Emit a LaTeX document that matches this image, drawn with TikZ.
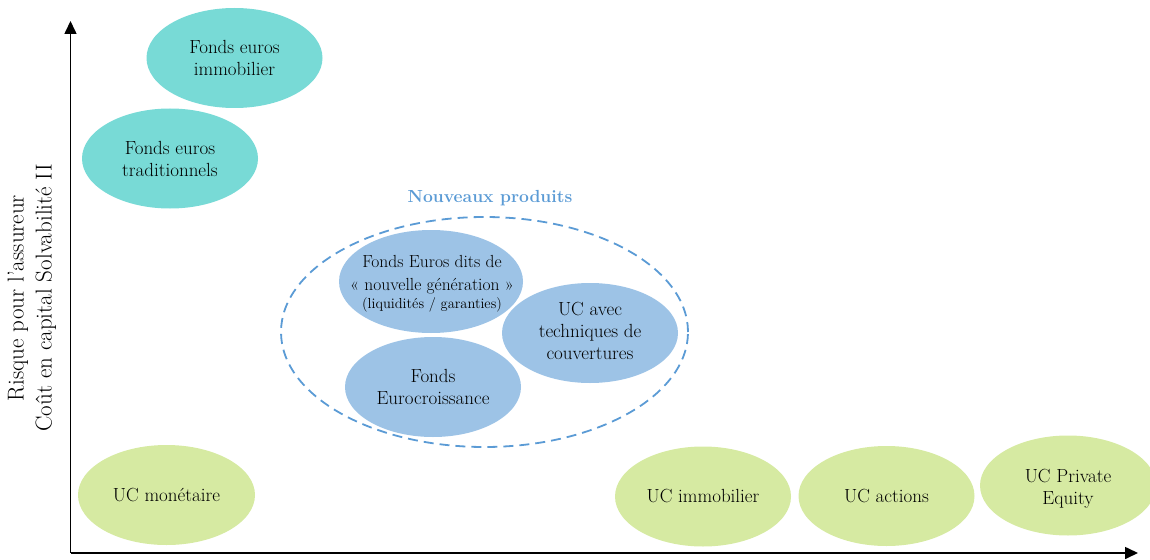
\documentclass[tikz,border=0pt]{standalone}
\usepackage{fontspec}
\usetikzlibrary{shapes.geometric,arrows.meta}
\definecolor{tealfill}{RGB}{120,218,214}
\definecolor{bluefill}{RGB}{157,195,230}
\definecolor{greenfill}{RGB}{214,234,162}
\definecolor{newblue}{RGB}{91,155,213}
\begin{document}
\begin{tikzpicture}[x=1pt,y=-1pt,
  bubble/.style={ellipse,inner sep=0pt,minimum width=176,minimum height=100},
  fondsbubble/.style={bubble,fill=tealfill},
  newbubble/.style={bubble,fill=bluefill},
  ucbubble/.style={bubble,fill=greenfill},
  bubbletext/.style={align=center,inner sep=0pt,font=\fontsize{19}{22}\selectfont},
  axis/.style={line width=1.6pt,-{Triangle[length=13pt,width=12pt]}}]
\useasboundingbox (0,0) rectangle (1150,559);

% axes
\coordinate (O) at (70.5,553);
\coordinate (ytip) at (70.5,21);
\coordinate (xtip) at (1138,553);
\draw[axis] (O) -- (ytip);
\draw[axis] (O) -- (xtip);
\node[rotate=90,align=center,font=\fontsize{23}{28}\selectfont] (ylabel) at (32,298)
  {Risque pour l'assureur\\Coût en capital Solvabilité II};

% euro funds
\node[fondsbubble] (immo) at (234.5,58) {};
\node[bubbletext] (immo-t) at (immo) {Fonds euros\\immobilier};
\node[fondsbubble] (trad) at (170,158.5) {};
\node[bubbletext] (trad-t) at (trad) {Fonds euros\\traditionnels};

% new products
\node[ellipse,draw=newblue,dash pattern=on 10pt off 6pt,line width=1.8pt,
  minimum width=407,minimum height=230] (nouveaux) at (484.5,332) {};
\node[text=newblue,font=\fontsize{17.5}{21}\bfseries] (nlabel) at (490,198) {Nouveaux produits};
\node[newbubble,minimum width=184,minimum height=103] (nextgen) at (431,281.5) {};
\node[bubbletext,font=\fontsize{17.5}{23}\selectfont] (nextgen-t) at (432,284)
  {Fonds Euros dits de\\«~nouvelle génération~»\\[-5pt]{\fontsize{14.5}{17}\selectfont(liquidités / garanties)}};
\node[newbubble] (couv) at (590,333) {};
\node[bubbletext] (couv-t) at (590,331) {UC avec\\techniques de\\couvertures};
\node[newbubble] (euroc) at (433,387) {};
\node[bubbletext] (euroc-t) at (euroc) {Fonds\\Eurocroissance};

% unit-linked funds
\node[ucbubble,minimum width=177] (mone) at (166.5,495) {};
\node[bubbletext] (mone-t) at (mone) {UC monétaire};
\node[ucbubble] (ucimmo) at (703,496.5) {};
\node[bubbletext] (ucimmo-t) at (ucimmo) {UC immobilier};
\node[ucbubble] (actions) at (886.5,496) {};
\node[bubbletext] (actions-t) at (actions) {UC actions};
\node[ucbubble] (pe) at (1068,485.5) {};
\node[bubbletext] (pe-t) at (1068,489) {UC Private\\Equity};
\end{tikzpicture}
\end{document}
